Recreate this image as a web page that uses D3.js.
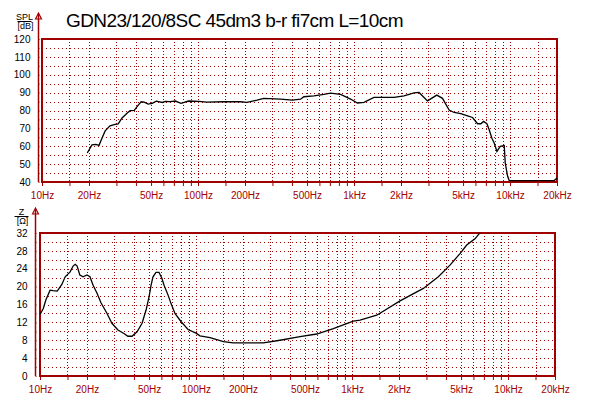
<!DOCTYPE html>
<html>
<head>
<meta charset="utf-8">
<script src="https://cdn.jsdelivr.net/npm/d3@7"></script>
<style>
  body { margin: 0; background: #fff; }
  svg { display: block; font-family: "Liberation Sans", Arial, sans-serif; }
  .tick text { font-size: 10px; }
</style>
</head>
<body>
<div id="chart"></div>
<script>
// SPL curve
var splFreq = [19.5, 20.9, 22.1, 23.2, 24.3, 25.4, 27.3, 29.4, 30.8, 32.6, 35.2, 36.7, 39.0, 41.4, 43.2, 45.2, 47.9, 50.9, 54.0, 59.0,
  61.7, 66.4, 71.5, 77.8, 87.0, 100.9, 114, 146, 187, 206, 239, 264, 338, 402, 454, 477, 553, 641, 707, 820,
  951, 1050, 1158, 1342, 1636, 1804, 2092, 2425, 2611, 2957, 3393, 3691, 4070, 4382, 4836, 5342, 5752, 6193, 6505, 6767,
  7106, 7353, 7652, 7917, 8240, 8652, 9180, 9316, 9652, 9883, 19230, 20000];
var splDb = [56.2, 60.8, 61, 60.5, 64.7, 68.6, 71.4, 72.3, 72.5, 75.8, 78.6, 79.9, 80.1, 83, 84.9, 84.7, 83.6, 84, 85.2, 84.5,
  85.1, 85, 85.3, 84, 85.3, 85.1, 84.7, 84.9, 84.9, 84.5, 85.8, 86.8, 86.4, 85.8, 86.3, 87.7, 88.2, 89, 89.7, 89,
  86.4, 84.2, 84.5, 87.3, 87.3, 87.3, 88.2, 89.9, 90.1, 85.4, 88.6, 86.8, 80.3, 78.9, 78.3, 77, 76.1, 72.6, 72.6, 73.9,
  72.6, 69.2, 64.5, 61.8, 57.1, 59.9, 60.4, 50.7, 43.2, 40.8, 40.8, 42.3];

// impedance curve
var zFreq = [10.0, 10.5, 10.9, 11.6, 12.1, 12.9, 13.8, 14.5, 15.6, 16.3, 16.8, 17.3, 18.0, 18.9, 20.0, 20.9, 21.9, 23.2, 24.6, 26.9,
  28.9, 31.6, 34.5, 36.6, 38.9, 41.9, 45.1, 47.8, 50.0, 51.5, 53.0, 55.4, 57.9, 60.5, 62.4, 66.2, 69.2, 73.3, 80.1, 88.9,
  100, 106, 123, 150, 173, 270, 345, 464, 594, 759, 1019, 1125, 1440, 2031, 2865, 3574, 4246, 4922, 5433, 6138, 6620];
var zOhm = [13.8, 15.1, 17, 19.2, 19.1, 19, 20.5, 22.2, 23.3, 24.6, 25, 24.6, 22.6, 22.2, 22.6, 22.2, 20.3, 18.5, 16.4, 14,
  11.8, 10.3, 9.5, 8.9, 8.9, 9.9, 11.8, 14.7, 17.7, 20.3, 22.2, 23.2, 23.2, 21.8, 20.3, 18.1, 16.2, 14, 12.2, 10.4,
  9.6, 9.0, 8.6, 7.7, 7.4, 7.4, 8, 8.8, 9.4, 10.6, 12.3, 12.5, 13.6, 16.8, 19.6, 22.2, 24.8, 27.4, 29.3, 30.7, 32.1];

var freqLabelValues = [10, 20, 50, 100, 200, 500, 1000, 2000, 5000, 10000, 20000];
var freqLabels = ["10Hz", "20Hz", "50Hz", "100Hz", "200Hz", "500Hz", "1kHz", "2kHz", "5kHz", "10kHz", "20kHz"];
var gridMult = [1, 1.5, 2, 3, 4, 5, 6, 7, 8, 9];
var decades = [10, 100, 1000, 10000];
var splTicks = [40, 50, 60, 70, 80, 90, 100, 110, 120];
var zTicks = [0, 4, 8, 12, 16, 20, 24, 28, 32];

var title = "GDN23/120/8SC 45dm3 b-r fi7cm L=10cm";
var red = "#a00000";

var W = 589, H = 402;
var svg = d3.select("#chart").append("svg")
  .attr("width", W).attr("height", H);

svg.append("text")
  .attr("x", 66).attr("y", 27)
  .attr("font-size", "19px")
  .attr("letter-spacing", "-0.6px")
  .attr("fill", "#000")
  .text(title);

// every grid frequency 10..20k
var gridFreqs = [];
decades.forEach(function(d) {
  gridMult.forEach(function(m) {
    if (d * m <= 20000) gridFreqs.push(d * m);
  });
});

function panel(opt) {
  var x = d3.scaleLog().domain([10, 20000]).range([opt.left, opt.right]);
  var y = d3.scaleLinear().domain(opt.ydomain).range([opt.bottom, opt.top]);
  var g = svg.append("g");

  // dotted grid
  g.append("g").selectAll("line")
    .data(gridFreqs.filter(function(f) { return f > 10 && f < 20000; }))
    .enter().append("line")
    .attr("x1", function(f) { return Math.round(x(f)) + 0.5; })
    .attr("x2", function(f) { return Math.round(x(f)) + 0.5; })
    .attr("y1", opt.top).attr("y2", opt.bottom)
    .attr("stroke", red).attr("stroke-dasharray", "1,2");

  var hvals = d3.range(opt.ydomain[0] + opt.minor, opt.ydomain[1], opt.minor);
  g.append("g").selectAll("line")
    .data(hvals)
    .enter().append("line")
    .attr("x1", opt.left).attr("x2", opt.right)
    .attr("y1", function(v) { return Math.round(y(v)) + 0.5; })
    .attr("y2", function(v) { return Math.round(y(v)) + 0.5; })
    .attr("stroke", red).attr("stroke-dasharray", "1,3");

  // frame
  g.append("rect")
    .attr("x", opt.left).attr("y", opt.top)
    .attr("width", opt.right - opt.left).attr("height", opt.bottom - opt.top)
    .attr("fill", "none").attr("stroke", red).attr("stroke-width", 2);

  // x axis: small ticks under the frame, labels in red
  var xAxis = d3.axisBottom(x)
    .tickValues(gridFreqs)
    .tickSize(3)
    .tickPadding(6)
    .tickFormat(function(f) {
      var i = freqLabelValues.indexOf(f);
      return i < 0 ? "" : freqLabels[i];
    });
  var xg = g.append("g")
    .attr("transform", "translate(0," + (opt.bottom + 1) + ")")
    .call(xAxis);
  xg.select(".domain").remove();
  xg.selectAll(".tick line").attr("stroke", red);
  xg.selectAll(".tick text").attr("fill", red);

  // y axis: separate red line with arrow, ticks at each minor step
  var yAxis = d3.axisLeft(y)
    .tickValues(d3.range(opt.ydomain[0], opt.ydomain[1] + 0.01, opt.minor))
    .tickSize(4)
    .tickPadding(4)
    .tickFormat(function(v) { return opt.labels.indexOf(v) < 0 ? "" : v; });
  var yg = g.append("g")
    .attr("transform", "translate(" + opt.axisX + ",0)")
    .call(yAxis);
  yg.select(".domain").remove();
  yg.selectAll(".tick line").attr("stroke", red).attr("x2", 1);
  yg.selectAll(".tick text").attr("fill", "#000");

  g.append("line")
    .attr("x1", opt.axisX).attr("x2", opt.axisX)
    .attr("y1", opt.arrowY).attr("y2", opt.bottom)
    .attr("stroke", red).attr("stroke-width", 1.5);
  g.append("path")
    .attr("d", "M" + (opt.axisX - 3) + "," + (opt.arrowY + 5) + "L" + opt.axisX + "," + (opt.arrowY - 1) +
      "L" + (opt.axisX + 3) + "," + (opt.arrowY + 5) + "Z")
    .attr("fill", "none").attr("stroke", red).attr("stroke-width", 1.2);

  // unit label as a fraction
  var cx = opt.axisX - 14;
  g.append("text").attr("x", cx).attr("y", opt.arrowY + 6)
    .attr("text-anchor", "middle").attr("font-size", "9px").text(opt.name);
  g.append("line")
    .attr("x1", cx - 7).attr("x2", cx + 7)
    .attr("y1", opt.arrowY + 7.5).attr("y2", opt.arrowY + 7.5)
    .attr("stroke", "#000");
  g.append("text").attr("x", cx + 1).attr("y", opt.arrowY + 15)
    .attr("text-anchor", "middle").attr("font-size", "9px").text(opt.unit);

  // curve
  var line = d3.line()
    .x(function(d) { return x(d[0]); })
    .y(function(d) { return y(d[1]); });
  g.append("path")
    .datum(d3.zip(opt.freq, opt.vals))
    .attr("d", line)
    .attr("fill", "none").attr("stroke", "#000").attr("stroke-width", 1.3);
}

panel({
  left: 42, right: 557, top: 39, bottom: 182,
  axisX: 38.5, arrowY: 14,
  ydomain: [40, 120], minor: 5, labels: splTicks,
  name: "SPL", unit: "[dB]",
  freq: splFreq, vals: splDb
});

panel({
  left: 40, right: 555, top: 233, bottom: 376,
  axisX: 35.5, arrowY: 209,
  ydomain: [0, 32], minor: 2, labels: zTicks,
  name: "Z", unit: "[\u03a9]",
  freq: zFreq, vals: zOhm
});
</script>
</body>
</html>
